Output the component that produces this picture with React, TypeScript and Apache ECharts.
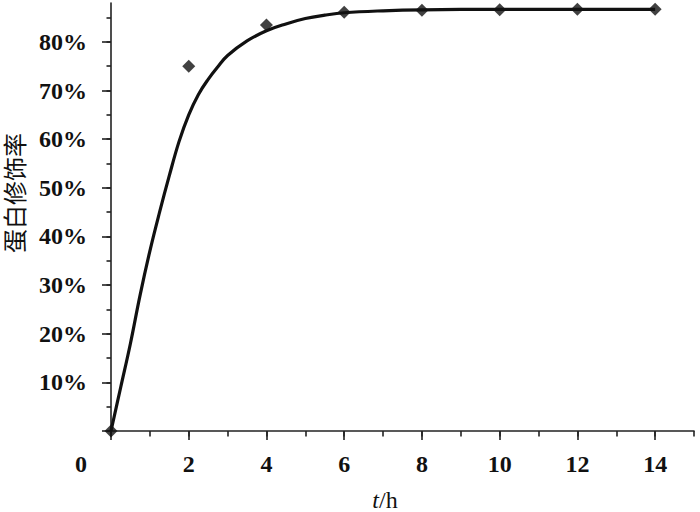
import React, { useEffect, useRef } from "react";
import * as echarts from "echarts";

// Measured points (t in h, modification rate in %)
const pointT = [0, 2, 4, 6, 8, 10, 12, 14];
const pointY = [0, 75.0, 83.5, 86.1, 86.5, 86.6, 86.7, 86.7];

// Fitted curve
const curveT = [0, 0.25, 0.5, 0.75, 1, 1.25, 1.5, 1.75, 2, 2.25, 2.5, 2.75, 3, 3.5, 4, 4.5, 5, 5.5, 6, 7, 8, 10, 12, 14];
const curveY = [0, 9, 18, 28, 37, 45, 52.5, 59.5, 65, 69.2, 72.3, 74.9, 77.2, 80.2, 82.3, 83.7, 84.8, 85.5, 86, 86.4, 86.6, 86.7, 86.7, 86.7];

// Tick / label values
const xMinorTicks = [0, 1, 2, 3, 4, 5, 6, 7, 8, 9, 10, 11, 12, 13, 14, 15];
const xMajorTicks = [0, 2, 4, 6, 8, 10, 12, 14];
const xLabels = [0, 2, 4, 6, 8, 10, 12, 14];
const yMinorTicks = [0, 5, 10, 15, 20, 25, 30, 35, 40, 45, 50, 55, 60, 65, 70, 75, 80, 85];
const yMajorTicks = [0, 10, 20, 30, 40, 50, 60, 70, 80];
const yLabels = [10, 20, 30, 40, 50, 60, 70, 80];

const xName = "t";
const xUnit = "/h";
const yName = "蛋白修饰率";

const SERIF = "'Liberation Serif', 'Times New Roman', serif";
const INK = "#111";
const AXIS = "#222";

export default function App() {
  const ref = useRef<HTMLDivElement>(null);
  useEffect(() => {
    if (!ref.current) return;
    const chart = echarts.init(ref.current, null, { renderer: "svg" });
    const gridRect = { left: 111, right: 6, top: 3, bottom: 81, outerBoundsMode: "none" as any };
    const baseX = { type: "value", min: 0, max: 15, splitLine: { show: false } };
    const baseY = { type: "value", min: 0, max: 88, splitLine: { show: false } };
    chart.setOption({
      animation: false,
      grid: [gridRect, gridRect],
      xAxis: [
        {
          ...baseX,
          gridIndex: 0,
          axisLine: { show: true, lineStyle: { color: AXIS, width: 1.6 } },
          axisTick: { show: true, customValues: xMinorTicks, length: 5.5, inside: false, lineStyle: { color: AXIS, width: 1.6 } },
          axisLabel: {
            customValues: xLabels,
            margin: 21,
            color: INK,
            fontFamily: SERIF,
            fontWeight: "bold",
            fontSize: 24,
            formatter: (v: number) => (v === 0 ? "{z|0}" : String(v)),
            rich: { z: { padding: [0, 60, 0, 0], fontFamily: SERIF, fontWeight: "bold", fontSize: 24, color: INK } },
          },
        },
        {
          ...baseX,
          gridIndex: 1,
          axisLine: { show: false },
          axisTick: { show: true, customValues: xMajorTicks, length: 9, lineStyle: { color: AXIS, width: 1.6 } },
          axisLabel: { show: false },
        },
      ],
      yAxis: [
        {
          ...baseY,
          gridIndex: 0,
          name: yName,
          nameLocation: "middle",
          nameRotate: 90,
          nameGap: 86,
          nameTextStyle: {
            fontFamily: "'Noto Sans CJK SC', sans-serif",
            fontSize: 24,
            color: INK,
            padding: [0, 0, 0, 48],
          },
          axisLine: { show: true, lineStyle: { color: AXIS, width: 1.6 } },
          axisTick: { show: true, customValues: yMinorTicks, length: 4.5, lineStyle: { color: AXIS, width: 1.6 } },
          axisLabel: {
            customValues: yLabels,
            margin: 24,
            color: INK,
            fontFamily: SERIF,
            fontWeight: "bold",
            fontSize: 24,
            formatter: (v: number) => `${v}%`,
          },
        },
        {
          ...baseY,
          gridIndex: 1,
          axisLine: { show: false },
          axisTick: { show: true, customValues: yMajorTicks, length: 9, lineStyle: { color: AXIS, width: 1.6 } },
          axisLabel: { show: false },
        },
      ],
      series: [
        {
          type: "line",
          xAxisIndex: 0,
          yAxisIndex: 0,
          data: curveT.map((t, i) => [t, curveY[i]]),
          smooth: 0.4,
          showSymbol: false,
          lineStyle: { color: INK, width: 3.2 },
          z: 2,
        },
        {
          type: "scatter",
          xAxisIndex: 0,
          yAxisIndex: 0,
          data: pointT.map((t, i) => [t, pointY[i]]),
          symbol: "diamond",
          symbolSize: 13,
          itemStyle: { color: INK },
          z: 3,
        },
      ],
      graphic: [
        {
          type: "text",
          x: 385,
          y: 488,
          style: {
            text: `{i|${xName}}${xUnit}`,
            fontFamily: SERIF,
            fontSize: 24,
            fill: INK,
            align: "center",
            verticalAlign: "top",
            rich: { i: { fontStyle: "italic", fontFamily: SERIF, fontSize: 24, fill: INK } },
          },
        },
      ],
    });
    return () => chart.dispose();
  }, []);
  return (
    <div
      ref={ref}
      style={{ position: "fixed", left: 0, top: 0, width: 700, height: 512, background: "#fff" }}
    />
  );
}
